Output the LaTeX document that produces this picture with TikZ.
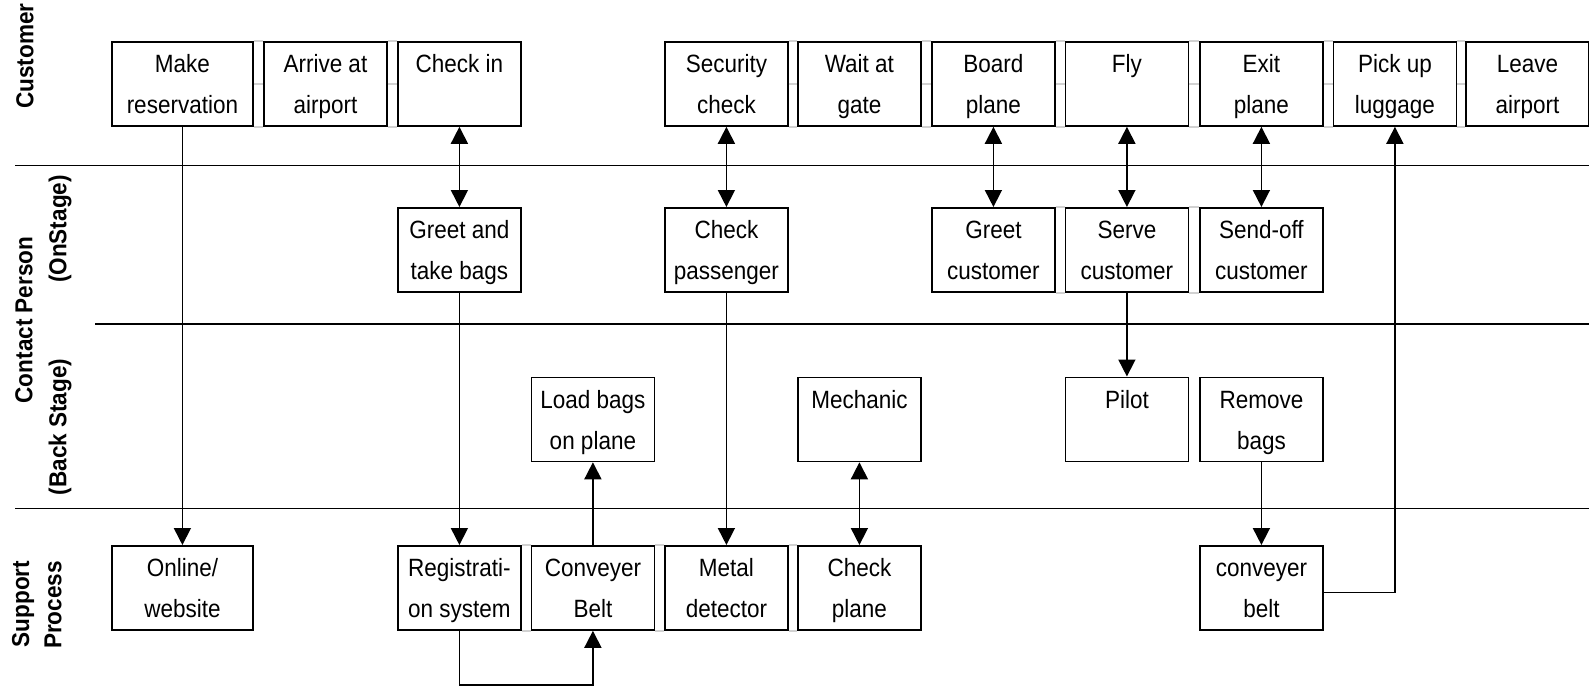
\documentclass[tikz,border=0pt]{standalone}
\usepackage{fontspec}
\setmainfont{Liberation Sans}
\newfontfamily\boxfont{Liberation Sans}[FakeStretch=0.9]
\newfontfamily\lanefont{Liberation Sans Bold}[FakeStretch=0.92]
\usetikzlibrary{arrows.meta,calc}
\newcommand\bx[2][123]{\parbox[t][84pt][t]{#1pt}{\centering\boxfont\fontsize{25}{41}\selectfont\rule{0pt}{31pt}#2}}
\begin{document}
\begin{tikzpicture}[x=1pt,y=-1pt,
  box/.style={draw=black,line width=1.8pt,inner sep=0pt,anchor=north west},
  lane/.style={rotate=90,font=\lanefont\fontsize{24.5}{28}\selectfont,inner sep=0pt},
  laneline/.style={line width=1.6pt,black},
  conn/.style={line width=1.7pt,black},
  gapline/.style={line width=1.4pt,black!18},
  tip/.tip={Triangle[length=17pt,width=17pt]},
  to/.style={conn,-tip},
  both/.style={conn,tip-tip}]
\useasboundingbox (0,0) rectangle (1589,685);

% lane labels
\node[lane] (lcust) at (25,56) {Customer};
\node[lane] (lcp) at (24,320) {Contact Person};
\node[lane] (lon) at (60,229) {(OnStage)};
\node[lane] (lbs) at (60,427) {(Back Stage)};
\node[lane] (lsup) at (23,604) {Support};
\node[lane] (lproc) at (53,605) {Process};

% lane lines
\coordinate (l1a) at (15,165.5);  \coordinate (l1b) at (1589,165.5);
\coordinate (l2a) at (95,324);    \coordinate (l2b) at (1589,324);
\coordinate (l3a) at (15,508.5);  \coordinate (l3b) at (1589,508.5);
\draw[laneline] (l1a) -- (l1b);
\draw[laneline] (l2a) -- (l2b);
\draw[laneline] (l3a) -- (l3b);

% customer row
\node[box] (mr) at (111,41)   {\bx[141]{Make\\reservation}};
\node[box] (aa) at (263,41)   {\bx{Arrive at\\airport}};
\node[box] (ci) at (397,41)   {\bx{Check in}};
\node[box] (sc) at (664,41)   {\bx{Security\\check}};
\node[box] (wg) at (797,41)   {\bx{Wait at\\gate}};
\node[box] (bp) at (931,41)   {\bx{Board\\plane}};
\node[box] (fl) at (1064.5,41){\bx{Fly}};
\node[box] (ep) at (1199,41)  {\bx{Exit\\plane}};
\node[box] (pl) at (1332.5,41){\bx{Pick up\\luggage}};
\node[box] (la) at (1465,41)  {\bx{Leave\\airport}};

% contact on stage
\node[box] (gt) at (397,207)   {\bx{Greet and\\take bags}};
\node[box] (cp) at (664,207)   {\bx{Check\\passenger}};
\node[box] (gc) at (931,207)   {\bx{Greet\\customer}};
\node[box] (sv) at (1064.5,207){\bx{Serve\\customer}};
\node[box] (so) at (1199,207)  {\bx{Send-off\\customer}};

% back stage
\node[box] (lb) at (530.5,376.5) {\bx{Load bags\\on plane}};
\node[box] (me) at (797,376.5)   {\bx{Mechanic}};
\node[box] (pi) at (1064.5,376.5){\bx{Pilot}};
\node[box] (rb) at (1199,376.5)  {\bx{Remove\\bags}};

% support
\node[box] (ow) at (111,545)   {\bx[141]{Online/\\website}};
\node[box] (rs) at (397,545)   {\bx{Registrati-\\on system}};
\node[box] (cb) at (530.5,545) {\bx{Conveyer\\Belt}};
\node[box] (md) at (664,545)   {\bx{Metal\\detector}};
\node[box] (cpl) at (797,545)  {\bx{Check\\plane}};
\node[box] (cb2) at (1199,545) {\bx{conveyer\\belt}};

% faint gap lines
\foreach \a/\b in {mr/aa,aa/ci,sc/wg,wg/bp,bp/fl,fl/ep,ep/pl,pl/la}{
  \draw[gapline] (\a.north east) -- (\b.north west);
  \draw[gapline] (\a.east) -- (\b.west);
  \draw[gapline] (\a.south east) -- (\b.south west);
}
\foreach \a/\b in {rs/cb,cb/md,md/cpl,gc/sv,sv/so}{
  \draw[gapline] (\a.north east) -- (\b.north west);
  \draw[gapline] (\a.south east) -- (\b.south west);
}

% connectors
\draw[to] (mr.south) -- (ow.north);
\draw[both] (ci.south) -- (gt.north);
\draw[to] (gt.south) -- (rs.north);
\draw[to] (rs.south) -- ++(0,54) -| (cb.south);
\draw[to] (cb.north) -- (lb.south);
\draw[both] (sc.south) -- (cp.north);
\draw[to] (cp.south) -- (md.north);
\draw[both] (me.south) -- (cpl.north);
\draw[both] (bp.south) -- (gc.north);
\draw[both] (fl.south) -- (sv.north);
\draw[to] (sv.south) -- (pi.north);
\draw[both] (ep.south) -- (so.north);
\draw[to] (rb.south) -- (cb2.north);
\draw[to] ([yshift=-4.5pt]cb2.east) -| (pl.south);
\end{tikzpicture}
\end{document}
